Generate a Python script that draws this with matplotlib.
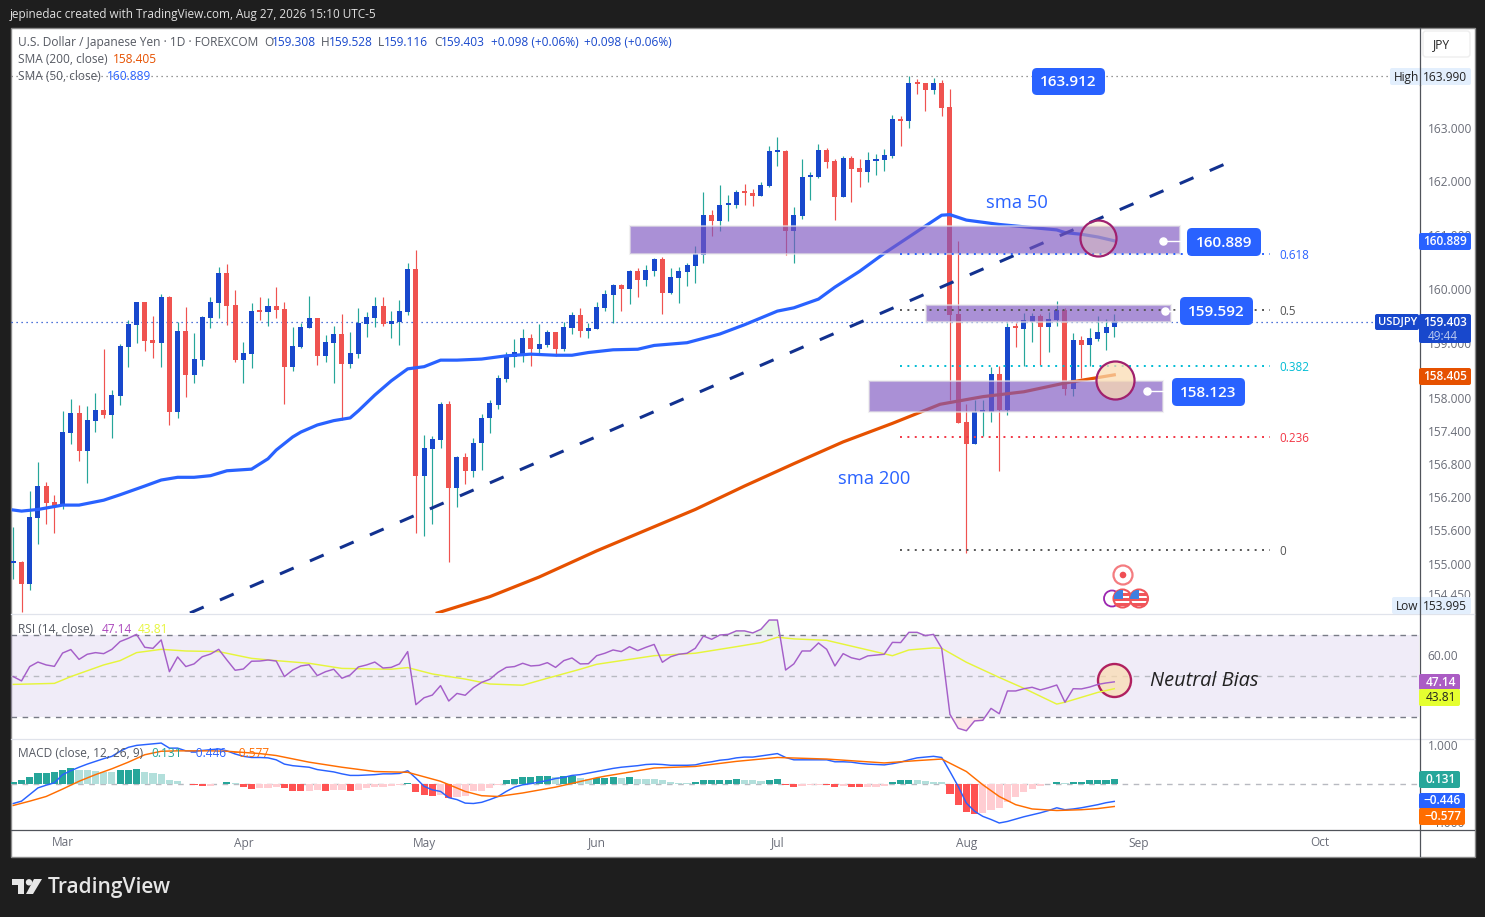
import matplotlib
matplotlib.use('Agg')
import numpy as np
import matplotlib.pyplot as plt
from matplotlib.colors import to_rgba
from matplotlib.lines import Line2D
from matplotlib.patches import Circle, FancyBboxPatch, Polygon, Rectangle
from matplotlib.transforms import IdentityTransform

plt.rcParams['font.family'] = ['Open Sans', 'DejaVu Sans']

# daily candles, USD/JPY
opens = [155.02, 155.03, 154.63, 155.85, 156.43, 156.14, 156.07, 157.41, 157.77, 157.08,
         157.63, 157.83, 157.74, 158.08, 158.98, 159.39, 159.81, 159.11, 159.06, 159.90,
         157.79, 159.28, 158.47, 158.74, 159.52, 159.79, 160.34, 159.75, 158.74, 158.86,
         159.64, 159.63, 159.74, 159.68, 158.62, 158.98, 159.33, 159.52, 158.82, 159.06,
         159.22, 158.67, 158.86, 159.41, 159.52, 159.74, 159.41, 159.44, 159.63, 160.41,
         156.62, 157.11, 157.28, 157.94, 156.40, 156.96, 156.71, 157.22, 157.67, 157.92,
         158.39, 158.80, 158.85, 159.15, 158.95, 159.02, 159.26, 158.95, 159.33, 159.57,
         159.28, 159.31, 159.70, 159.94, 160.12, 160.05, 160.38, 160.21, 160.38, 160.60,
         159.97, 160.25, 160.36, 160.47, 160.67, 161.40, 161.29, 161.59, 161.59, 161.83,
         161.81, 161.75, 161.94, 162.56, 162.58, 161.11, 161.39, 162.10, 162.10, 162.60,
         162.40, 161.73, 162.45, 162.27, 162.19, 162.40, 162.41, 162.49, 163.17, 163.13,
         163.83, 163.83, 163.70, 163.83, 163.39, 159.59, 157.60, 157.20, 157.79, 157.79,
         158.49, 157.83, 159.35, 159.31, 159.44, 159.55, 159.35, 159.48, 159.66, 158.21,
         159.11, 159.02, 159.13, 159.24, 159.35]
highs = [155.68, 155.05, 156.33, 156.87, 156.51, 156.27, 157.81, 158.03, 157.92, 157.90,
         158.14, 158.95, 158.19, 159.04, 159.48, 159.81, 159.81, 159.55, 159.96, 159.92,
         159.44, 159.72, 159.24, 159.55, 159.90, 160.45, 160.51, 160.03, 159.08, 159.79,
         159.90, 159.88, 160.08, 159.81, 159.35, 159.42, 159.92, 159.52, 159.20, 159.37,
         159.59, 159.26, 159.70, 159.63, 159.90, 159.90, 159.64, 159.85, 160.52, 160.76,
         157.37, 157.35, 157.97, 157.99, 156.99, 157.04, 157.31, 157.75, 158.00, 158.47,
         158.89, 159.13, 159.31, 159.22, 159.40, 159.29, 159.26, 159.44, 159.63, 159.70,
         159.42, 159.81, 160.03, 160.14, 160.14, 160.40, 160.43, 160.49, 160.62, 160.63,
         160.43, 160.45, 160.52, 160.83, 161.83, 161.50, 161.95, 161.77, 161.86, 161.97,
         161.88, 162.01, 162.67, 162.84, 162.60, 161.55, 162.43, 162.19, 162.71, 162.63,
         162.43, 162.49, 162.49, 162.43, 162.56, 162.52, 162.61, 163.24, 163.22, 163.96,
         163.90, 163.83, 163.92, 163.88, 163.72, 160.93, 157.93, 158.01, 158.01, 158.61,
         158.63, 159.42, 159.42, 159.61, 159.61, 159.59, 159.62, 159.83, 159.70, 159.24,
         159.18, 159.33, 159.55, 159.50, 159.59]
lows = [154.72, 154.11, 154.53, 155.37, 155.74, 155.57, 156.01, 157.20, 156.89, 156.49,
        157.42, 157.68, 157.31, 157.92, 158.62, 159.06, 158.91, 158.78, 158.62, 157.55,
        157.68, 158.07, 158.32, 158.63, 159.33, 159.52, 159.39, 158.71, 158.32, 158.60,
        159.48, 159.37, 159.52, 157.94, 158.54, 158.96, 159.33, 158.65, 158.71, 158.32,
        157.64, 158.60, 158.78, 159.17, 159.35, 159.37, 159.15, 159.02, 159.57, 155.57,
        155.52, 155.74, 157.13, 155.04, 156.05, 156.47, 156.60, 156.73, 157.40, 157.85,
        158.34, 158.62, 158.71, 158.63, 158.87, 158.98, 158.82, 158.91, 159.22, 159.17,
        159.15, 159.31, 159.64, 159.42, 159.64, 159.77, 159.90, 160.10, 160.28, 159.59,
        159.95, 159.79, 160.10, 160.16, 160.52, 161.02, 161.11, 161.29, 161.53, 161.59,
        161.57, 161.75, 161.92, 162.30, 160.67, 160.52, 161.33, 161.68, 162.08, 162.27,
        161.31, 161.73, 161.64, 161.92, 162.01, 162.14, 162.21, 162.45, 162.67, 163.00,
        163.62, 163.31, 163.62, 163.22, 158.01, 157.59, 155.20, 157.20, 157.35, 157.61,
        156.71, 157.74, 158.98, 158.63, 159.07, 158.65, 158.89, 159.37, 158.10, 158.08,
        158.41, 158.63, 159.09, 158.93, 159.16]
closes = [155.03, 154.63, 155.86, 156.43, 156.12, 156.07, 157.42, 157.77, 157.08, 157.64,
          157.83, 157.74, 158.10, 159.00, 159.41, 159.81, 159.09, 159.06, 159.90, 157.79,
          159.28, 158.47, 158.76, 159.53, 159.81, 160.34, 159.74, 158.74, 158.87, 159.64,
          159.63, 159.74, 159.66, 158.62, 159.00, 159.35, 159.52, 158.82, 159.07, 159.22,
          158.67, 158.87, 159.42, 159.53, 159.74, 159.41, 159.46, 159.64, 160.41, 156.62,
          157.13, 157.30, 157.94, 156.40, 156.96, 156.71, 157.22, 157.68, 157.95, 158.41,
          158.82, 158.89, 159.15, 158.95, 159.04, 159.26, 158.95, 159.35, 159.57, 159.28,
          159.33, 159.72, 159.95, 160.12, 160.05, 160.38, 160.21, 160.40, 160.60, 159.97,
          160.27, 160.38, 160.49, 160.69, 161.40, 161.29, 161.59, 161.61, 161.83, 161.81,
          161.75, 161.95, 162.58, 162.58, 161.11, 161.40, 162.10, 162.12, 162.60, 162.38,
          161.73, 162.45, 162.25, 162.19, 162.41, 162.43, 162.51, 163.17, 163.13, 163.83,
          163.81, 163.70, 163.83, 163.37, 159.57, 157.59, 157.20, 157.79, 157.81, 158.49,
          157.83, 159.35, 159.33, 159.48, 159.55, 159.35, 159.50, 159.66, 158.21, 159.11,
          159.02, 159.15, 159.26, 159.35, 159.46]

sma50_bar = [0, 1, 3, 6, 8, 11, 13, 16, 18, 20, 22, 24, 26, 29, 31, 32, 34, 35, 37, 39, 41, 42,
             44, 46, 48, 49, 50, 52, 54, 57, 60, 63, 66, 68, 70, 73, 76, 78, 82, 86, 89, 93,
             95, 98, 100, 103, 106, 108, 111, 113, 114, 116, 120, 127, 128, 130, 132, 134]
sma50 = [155.99, 155.97, 156.00, 156.08, 156.08, 156.17, 156.27, 156.43, 156.54, 156.59, 156.59,
         156.62, 156.71, 156.74, 156.93, 157.09, 157.33, 157.42, 157.55, 157.63, 157.68, 157.81,
         158.10, 158.36, 158.58, 158.60, 158.62, 158.74, 158.74, 158.76, 158.82, 158.85, 158.83,
         158.83, 158.88, 158.93, 158.94, 159.01, 159.06, 159.22, 159.39, 159.64, 159.70, 159.86,
         160.08, 160.37, 160.70, 160.90, 161.20, 161.40, 161.41, 161.31, 161.23, 161.13, 161.08,
         161.05, 161.00, 160.93]
sma200_bar = [51.6, 58, 64, 71, 77, 83, 89, 95, 101, 107, 112.8, 118, 123, 128, 134]
sma200 = [154.10, 154.40, 154.76, 155.24, 155.62, 156.00, 156.43, 156.84, 157.24, 157.58,
          157.93, 158.07, 158.16, 158.32, 158.47]

trend_bar = [21.5, 148.1]
trend_price = [154.10, 162.38]

zone_left = [75.06, 111.1, 104.1]
zone_right = [142.0, 140.9, 139.9]
zone_top = [161.20, 159.75, 158.36]
zone_bottom = [160.69, 159.44, 157.79]

fib_names = ['0.618', '0.5', '0.382', '0.236', '0']
fib_levels = [160.69, 159.66, 158.63, 157.33, 155.26]
fib_colors = ['#2962ff', '#555555', '#00bcd4', '#f23645', '#555555']

anchor_bar = [139.9, 140.2, 138.0]
anchor_end = [142.9, 142.0, 141.0]
anchor_price = [160.93, 159.64, 158.17]

# tick spots as they sit on the chart's slightly log-shaped scale
price_ticks = [154.45, 155.0, 155.62, 156.23, 156.84, 157.44, 158.05, 159.05, 160.05, 161.04, 162.03, 163.0]
price_tick_labels = ['154.450', '155.000', '155.600', '156.200', '156.800', '157.400', '158.000',
                     '159.000', '160.000', '161.000', '162.000', '163.000']
month_bars = [6, 28, 50, 71, 93, 116, 137, 159]
month_labels = ['Mar', 'Apr', 'May', 'Jun', 'Jul', 'Aug', 'Sep', 'Oct']

rsi = [49.7, 47.6, 54.6, 56.8, 55.4, 54.7, 61.2, 62.9, 58.1, 60.6, 61.4, 60.9, 63.0, 66.8, 68.4,
       70.3, 64.0, 63.5, 67.6, 52.1, 59.3, 54.6, 55.9, 59.4, 60.7, 63.0, 57.8, 52.8, 53.4, 57.2,
       57.3, 57.8, 57.3, 49.7, 52.9, 54.9, 55.5, 50.2, 52.1, 53.3, 48.9, 50.5, 54.4, 55.4, 56.8,
       53.9, 54.2, 55.9, 61.9, 36.0, 39.4, 40.7, 45.3, 37.8, 41.5, 40.6, 44.3, 46.9, 48.4, 51.8,
       54.2, 54.6, 56.2, 54.9, 55.2, 56.5, 54.2, 57.5, 58.8, 55.9, 56.0, 59.9, 61.1, 62.7, 61.9,
       64.3, 62.4, 64.0, 65.4, 56.7, 59.4, 60.6, 61.1, 63.5, 69.5, 67.9, 70.0, 70.3, 72.0, 72.0,
       71.0, 72.8, 77.3, 77.3, 52.9, 55.9, 62.2, 62.2, 66.1, 63.0, 54.9, 60.9, 58.9, 58.0, 59.8,
       60.2, 60.6, 66.4, 66.3, 71.3, 71.3, 69.7, 70.3, 63.5, 31.3, 24.5, 23.3, 28.1, 28.4, 34.2,
       31.6, 42.7, 42.7, 43.8, 44.5, 43.2, 44.3, 45.6, 37.2, 43.8, 43.7, 44.6, 45.9, 46.6, 47.14]
rsi_ma_bar = [0, 5, 7, 11, 13, 15, 18, 21, 25, 29, 32, 36, 40, 46, 48, 51, 55, 58, 62, 65, 69,
              71, 75, 78, 83, 88, 91, 93, 95, 99, 107, 109, 112, 113, 116, 120, 123, 127, 128,
              132, 134]
rsi_ma = [45.9, 46.4, 49.7, 55.4, 57.5, 61.4, 63.0, 62.2, 61.9, 58.6, 57.5, 56.2, 53.7, 53.3,
          54.1, 51.0, 48.5, 46.1, 45.5, 48.9, 53.3, 55.7, 58.1, 59.9, 61.1, 64.3, 66.3, 68.9,
          68.1, 67.4, 59.9, 62.7, 63.7, 63.5, 56.7, 49.3, 44.0, 36.3, 37.2, 42.0, 43.81]

macd = [-0.50, -0.44, -0.27, -0.10, -0.03, 0.03, 0.24, 0.34, 0.43, 0.51, 0.58, 0.65, 0.71, 0.84,
        0.94, 0.99, 1.01, 1.03, 1.05, 0.92, 0.92, 0.85, 0.84, 0.86, 0.88, 0.90, 0.85, 0.77, 0.71,
        0.68, 0.68, 0.67, 0.62, 0.51, 0.47, 0.45, 0.43, 0.37, 0.34, 0.31, 0.26, 0.22, 0.22, 0.23,
        0.24, 0.26, 0.26, 0.27, 0.34, 0.15, -0.06, -0.15, -0.19, -0.35, -0.40, -0.49, -0.50, -0.47,
        -0.40, -0.32, -0.19, -0.08, -0.02, 0.01, 0.05, 0.09, 0.14, 0.17, 0.22, 0.24, 0.28, 0.32,
        0.36, 0.40, 0.43, 0.45, 0.47, 0.50, 0.51, 0.50, 0.48, 0.48, 0.48, 0.49, 0.54, 0.57, 0.61,
        0.63, 0.67, 0.69, 0.69, 0.72, 0.75, 0.78, 0.68, 0.62, 0.62, 0.62, 0.62, 0.62, 0.57, 0.57,
        0.56, 0.53, 0.51, 0.50, 0.49, 0.52, 0.56, 0.62, 0.67, 0.69, 0.71, 0.68, 0.32, -0.06, -0.49,
        -0.70, -0.83, -0.91, -1.00, -0.96, -0.90, -0.84, -0.79, -0.74, -0.68, -0.61, -0.66, -0.64,
        -0.61, -0.57, -0.53, -0.48, -0.446]
signal_bar = [0, 2, 4, 6, 8, 10, 12, 14, 16, 18, 20, 24, 26, 28, 30, 32, 36, 40, 44, 48, 52, 55,
              57, 59, 62, 66, 71, 72, 78, 83, 88, 93, 99, 106, 110, 113, 116, 118, 120, 122, 124,
              127, 130, 132, 134]
signal = [-0.55, -0.44, -0.32, -0.13, 0.07, 0.24, 0.39, 0.56, 0.75, 0.84, 0.85, 0.85, 0.84, 0.81,
          0.78, 0.73, 0.56, 0.43, 0.32, 0.30, 0.07, -0.19, -0.30, -0.32, -0.23, -0.08, 0.16, 0.20,
          0.41, 0.45, 0.58, 0.68, 0.64, 0.54, 0.60, 0.64, 0.32, -0.02, -0.32, -0.53, -0.64, -0.68,
          -0.66, -0.63, -0.577]
hist = [0.06, 0.09, 0.19, 0.27, 0.29, 0.295, 0.37, 0.42, 0.37, 0.35, 0.33, 0.31, 0.30, 0.36, 0.37,
        0.38, 0.32, 0.27, 0.25, 0.09, 0.08, 0.01, -0.02, -0.05, -0.04, 0.01, 0.06, 0.03, -0.07,
        -0.12, -0.11, -0.09, -0.08, -0.09, -0.17, -0.18, -0.17, -0.15, -0.17, -0.16, -0.15, -0.17,
        -0.15, -0.10, -0.08, -0.07, -0.06, -0.03, 0.03, -0.20, -0.27, -0.32, -0.27, -0.35, -0.33,
        -0.32, -0.19, -0.17, -0.09, -0.03, 0.09, 0.14, 0.18, 0.19, 0.21, 0.215, 0.18, 0.20, 0.21,
        0.15, 0.13, 0.16, 0.165, 0.17, 0.16, 0.17, 0.14, 0.135, 0.13, 0.09, 0.06, 0.03, 0.025, 0.04,
        0.09, 0.095, 0.11, 0.115, 0.12, 0.11, 0.09, 0.08, 0.11, 0.12, -0.02, -0.07, -0.06, -0.03,
        -0.02, -0.025, -0.07, -0.05, -0.07, -0.075, -0.07, -0.065, -0.06, 0.04, 0.09, 0.11, 0.09,
        0.085, 0.06, 0.05, -0.25, -0.53, -0.71, -0.76, -0.75, -0.66, -0.61, -0.45, -0.33, -0.20,
        -0.12, -0.06, 0.01, 0.06, 0.03, 0.04, 0.06, 0.09, 0.11, 0.115, 0.131]

W, H = 1485, 917
UP = '#1848cc'
DOWN = '#ef5350'
TEAL = '#26a69a'
GRAY = '#555962'
TICK = '#6a6d78'
TV_BLUE = '#2962ff'
T = IdentityTransform()


def pane(x0, y0, x1, y1):
    return fig.add_axes([x0 / W, 1 - y1 / H, (x1 - x0) / W, (y1 - y0) / H])


def label(x, y, s, color=GRAY, size=8.55, **kw):
    kw.setdefault('ha', 'left')
    fig.text(x / W, 1 - (y + 0.8) / H, s, color=color, fontsize=size, va='center', zorder=8, **kw)


def tag(x0, y0, x1, y1, color, round_size=2):
    box = FancyBboxPatch((x0, H - y1), x1 - x0, y1 - y0, boxstyle=f'round,pad=0,rounding_size={round_size}',
                         transform=T, fc=color, ec='none', zorder=6)
    fig.add_artist(box)


def us_flag(cx, cy, r):
    rim = Circle((cx, H - cy), r, transform=T, fc='white', ec='#f0555a', lw=1.5, zorder=5)
    fig.add_artist(rim)
    for y in (cy - 5.5, cy - 0.5, cy + 4.5):
        stripe = Rectangle((cx - r, H - y - 2.6), 2 * r, 2.6, transform=T, fc='#f0555a', ec='none', zorder=5.1)
        fig.add_artist(stripe)
        stripe.set_clip_path(rim)
    canton = Rectangle((cx - r, H - cy), r, r, transform=T, fc='#3f7fe0', ec='none', zorder=5.2)
    fig.add_artist(canton)
    canton.set_clip_path(rim)


fig = plt.figure(figsize=(W / 100, H / 100), dpi=100, facecolor='#1e1e1e')
fig.add_artist(Rectangle((10.5, H - 856.5), 1464, 829, transform=T, fc='white', ec='#8a8a8a', lw=1, zorder=-1))

xs = np.arange(len(closes))
o, h, l, c = map(np.array, (opens, highs, lows, closes))
is_up = c >= o
xlim = (-0.28, 171.09)

# main pane
ax = pane(11, 28, 1419, 613)
ax.set_xlim(xlim)
ax.set_ylim(154.10, 164.835)
ax.patch.set_alpha(0)
ax.vlines(xs, l, h, colors=np.where(is_up, TEAL, DOWN), lw=0.85, zorder=2)
body = np.maximum(np.abs(c - o), 0.03)
ax.bar(xs, body, bottom=np.minimum(o, c), width=0.61, color=np.where(is_up, UP, DOWN), zorder=2.5)
ax.plot(sma50_bar, sma50, color=TV_BLUE, lw=2.3, zorder=3, solid_joinstyle='round')
ax.plot(sma200_bar, sma200, color='#e65100', lw=2.3, zorder=3)
ax.plot(trend_bar, trend_price, color='#12318f', lw=2.2, ls=(0, (4.9, 5.8)), zorder=3)

ax.axhline(159.44, color=UP, lw=0.9, ls=(0, (1, 3)), zorder=1.5)
ax.plot([xlim[0], 167.6], [163.95, 163.95], color='#777777', lw=0.9, ls=(0, (1, 3)), zorder=1.5)

for left, right, top, bottom in zip(zone_left, zone_right, zone_top, zone_bottom):
    ax.add_patch(Rectangle((left, bottom), right - left, top - bottom, fc=to_rgba('#7e57c2', 0.66),
                           ec=to_rgba('#e8e8e8', 0.6), lw=1.5, zorder=4))

for name, level, col in zip(fib_names, fib_levels, fib_colors):
    ax.plot([107.9, 152.95], [level, level], color=col, lw=1.4, ls=(0, (1, 2.8)), zorder=4.5)
    ax.annotate(name, (154.05, level), xytext=(0, -1.2), textcoords='offset points', color=col,
                fontsize=8.4, va='center', zorder=5)

for start, end, level in zip(anchor_bar, anchor_end, anchor_price):
    ax.plot([start, end], [level, level], color='white', lw=1, zorder=5)
    ax.scatter([start], [level], s=26, color='white', zorder=5)

ax.scatter([132.0], [160.98], s=672, fc=to_rgba('#fbdcb0', 0.32), ec='#a0206e', lw=1.6, zorder=5)
ax.scatter([134.1], [158.38], s=750, fc=to_rgba('#fbdcb0', 0.72), ec='#a0206e', lw=1.6, zorder=5)

ax.yaxis.tick_right()
ax.set_yticks(price_ticks, price_tick_labels, color=TICK, fontsize=8.55)
ax.tick_params(axis='y', length=0, pad=6.2)
ax.set_xticks([])
for s in ax.spines.values():
    s.set_visible(False)

# RSI pane
ax_rsi = pane(11, 614, 1419, 738)
ax_rsi.set_xlim(xlim)
ax_rsi.set_ylim(19.76, 80.24)
ax_rsi.patch.set_alpha(0)
ax_rsi.axhspan(30, 70, fc='#7e57c2', alpha=0.11, lw=0)
ax_rsi.axhline(70, color='#787b86', lw=1, ls=(0, (4, 4)))
ax_rsi.axhline(30, color='#787b86', lw=1, ls=(0, (4, 4)))
ax_rsi.axhline(50, color='#b8bac1', lw=1, ls=(0, (4, 4)))
rsi_arr = np.array(rsi)
ax_rsi.fill_between(xs, rsi_arr, 70, where=rsi_arr > 70, interpolate=True, color='#4caf50', alpha=0.12, lw=0)
ax_rsi.fill_between(xs, rsi_arr, 30, where=rsi_arr < 30, interpolate=True, color='#f23645', alpha=0.12, lw=0)
ax_rsi.scatter([134], [48], s=565, fc=to_rgba('#fbdcb0', 0.72), ec='#b0205f', lw=1.7, zorder=2)
ax_rsi.plot(rsi_ma_bar, rsi_ma, color='#e6f53b', lw=1.05, zorder=3)
ax_rsi.plot(xs, rsi, color='#a55fc9', lw=1.05, zorder=3)
ax_rsi.yaxis.tick_right()
ax_rsi.set_yticks([60], ['60.00'], color=TICK, fontsize=8.55)
ax_rsi.tick_params(axis='y', length=0, pad=6.2)
ax_rsi.set_xticks([])
for s in ax_rsi.spines.values():
    s.set_visible(False)

# MACD pane
ax_macd = pane(11, 739, 1419, 829)
ax_macd.set_xlim(xlim)
ax_macd.set_ylim(-1.154, 1.154)
ax_macd.patch.set_alpha(0)
ax_macd.axhline(0, color='#b8bac1', lw=1, ls=(0, (4, 4)))
hist_arr = np.array(hist)
hist_colors = []
for i, val in enumerate(hist_arr):
    prev = hist_arr[i - 1] if i else 0
    if val >= 0:
        hist_colors.append('#26a69a' if val > prev else '#b2dfdb')
    else:
        hist_colors.append('#ff5252' if val < prev else '#ffcdd2')
ax_macd.bar(xs, hist_arr, width=0.87, color=hist_colors, zorder=2)
ax_macd.plot(xs, macd, color=TV_BLUE, lw=1.05, zorder=3)
ax_macd.plot(signal_bar, signal, color='#ff6d00', lw=1.05, zorder=3)
ax_macd.yaxis.tick_right()
ax_macd.set_yticks([1, -0.97], ['1.000', '\u22121.000'], color=TICK, fontsize=8.55)
ax_macd.tick_params(axis='y', length=0, pad=6.2)
ax_macd.set_xticks(month_bars, month_labels, color=TICK, fontsize=8.55)
ax_macd.tick_params(axis='x', length=0, pad=5.4)
for s in ax_macd.spines.values():
    s.set_visible(False)

# separators
for y, col in ((613.5, '#e0e3eb'), (738.5, '#e0e3eb'), (829.5, '#50535a')):
    fig.add_artist(Line2D([11, 1474], [H - y, H - y], transform=T, color=col, lw=0.9, zorder=5))
fig.add_artist(Line2D([1419.5, 1419.5], [H - 856, H - 28], transform=T, color='#50535a', lw=0.9, zorder=5))

# header and legends
label(10, 14, 'jepinedac created with TradingView.com, Aug 27, 2026 15:10 UTC-5', color='#e0e0e0', size=8.5)
label(18, 42, 'U.S. Dollar / Japanese Yen \u00b7 1D \u00b7 FOREXCOM')
for x_o, head, gap, val in ((264, 'O', 8, '159.308'), (321, 'H', 8, '159.528'),
                            (378, 'L', 6, '159.116'), (434, 'C', 7, '159.403')):
    label(x_o, 42, head)
    label(x_o + gap, 42, val, color=UP)
label(491, 42, '+0.098 (+0.06%)', color=UP)
label(584, 42, '+0.098 (+0.06%)', color=UP)
label(18, 59, 'SMA (200, close)')
label(113, 59, '158.405', color='#e65100')
label(18, 76, 'SMA (50, close)')
label(107, 76, '160.889', color=TV_BLUE)
label(18, 629, 'RSI (14, close)')
label(102, 629, '47.14', color='#ab47bc')
label(138, 629, '43.81', color='#e6f53b')
label(18, 753, 'MACD (close, 12, 26, 9)')
label(151, 753, '0.131', color=TEAL)
label(189, 753, '\u22120.446', color=TV_BLUE)
label(232, 753, '\u22120.577', color='#ff6d00')

# callouts
for x0, x1, y0, y1, txt in ((1032, 1105, 68, 95, '163.912'), (1187, 1261, 228, 256, '160.889'),
                            (1180, 1253, 297, 325, '159.592'), (1172, 1245, 378, 406, '158.123')):
    tag(x0, y0, x1, y1, TV_BLUE, round_size=5)
    label((x0 + x1) / 2, (y0 + y1) / 2, txt, color='white', size=11, ha='center', fontweight='semibold')
label(986, 202.5, 'sma 50', color=TV_BLUE, size=13.2)
label(838, 478, 'sma 200', color=TV_BLUE, size=13.2)
label(1150, 680, 'Neutral Bias', color='#222222', size=14.4, fontstyle='italic')

# price scale tags
fig.add_artist(FancyBboxPatch((1423, H - 57), 47, 26, boxstyle='round,pad=0,rounding_size=3',
                              transform=T, fc='white', ec='#eeeeee', lw=1, zorder=6))
label(1442, 44, 'JPY', color='#222222', ha='center')
for y0, y1, left, name, val in ((68, 85, 1390, 'High', '163.990'), (597, 614, 1392, 'Low', '153.995')):
    tag(left, y0, 1471, y1, '#e3effd')
    label(1394 if name == 'High' else 1396, (y0 + y1) / 2, name, color='#222222')
    label(1467, (y0 + y1) / 2, val, color='#222222', ha='right')
fig.add_artist(Line2D([1419.5, 1419.5], [H - 85, H - 68], transform=T, color='#50535a', lw=0.9, zorder=7))
fig.add_artist(Line2D([1419.5, 1419.5], [H - 613, H - 597], transform=T, color='#50535a', lw=0.9, zorder=7))

tag(1419, 233, 1471, 250, TV_BLUE)
label(1467, 241, '160.889', color='white', ha='right', fontweight='semibold')
tag(1375, 314, 1419, 330, UP)
label(1378, 322, 'USDJPY', color='white', size=8, fontweight='semibold')
tag(1419, 314, 1471, 343, UP)
label(1467, 322, '159.403', color='white', ha='right', fontweight='semibold')
label(1428, 336, '49:44', color='#b8c8f0', size=8.4)
tag(1419, 368, 1471, 385, '#e65100')
label(1467, 376, '158.405', color='white', ha='right', fontweight='semibold')
tag(1419, 674, 1460, 690, '#ab5cc4')
label(1456, 682, '47.14', color='white', ha='right', fontweight='semibold')
tag(1419, 689, 1460, 706, '#e5ff30')
label(1456, 697, '43.81', color='#222222', ha='right')
tag(1419, 771, 1460, 788, TEAL)
label(1456, 779, '0.131', color='white', ha='right', fontweight='semibold')
tag(1419, 793, 1465, 809, TV_BLUE)
label(1461, 800, '\u22120.446', color='white', ha='right', fontweight='semibold')
tag(1419, 808, 1465, 825, '#ff6d00')
label(1461, 816, '\u22120.577', color='white', ha='right', fontweight='semibold')

# event markers
fig.add_artist(Circle((1123, H - 575), 9.5, transform=T, fc='white', ec='#f47c80', lw=1.6, zorder=5))
fig.add_artist(Circle((1123, H - 575), 3.3, transform=T, fc='#ef4f55', ec='none', zorder=5))
fig.add_artist(Circle((1112, H - 598.5), 8, transform=T, fc='white', ec='#9c27b0', lw=1.3, zorder=5))
us_flag(1122.5, 598.5, 9)
us_flag(1139, 598.5, 9)

# footer logo
fig.add_artist(Polygon([(12, H - 879), (24, H - 879), (24, H - 894), (18, H - 894), (18, H - 885), (12, H - 885)],
                       closed=True, transform=T, fc='#e6e6e6', ec='none', zorder=5))
fig.add_artist(Circle((29, H - 882.3), 3.2, transform=T, fc='#e6e6e6', ec='none', zorder=5))
fig.add_artist(Polygon([(34, H - 879), (42, H - 879), (33, H - 894), (26, H - 894)],
                       closed=True, transform=T, fc='#e6e6e6', ec='none', zorder=5))
label(48, 887, 'TradingView', color='#e6e6e6', size=15, fontweight='semibold')

fig.savefig('out.png', dpi=100, facecolor=fig.get_facecolor())
